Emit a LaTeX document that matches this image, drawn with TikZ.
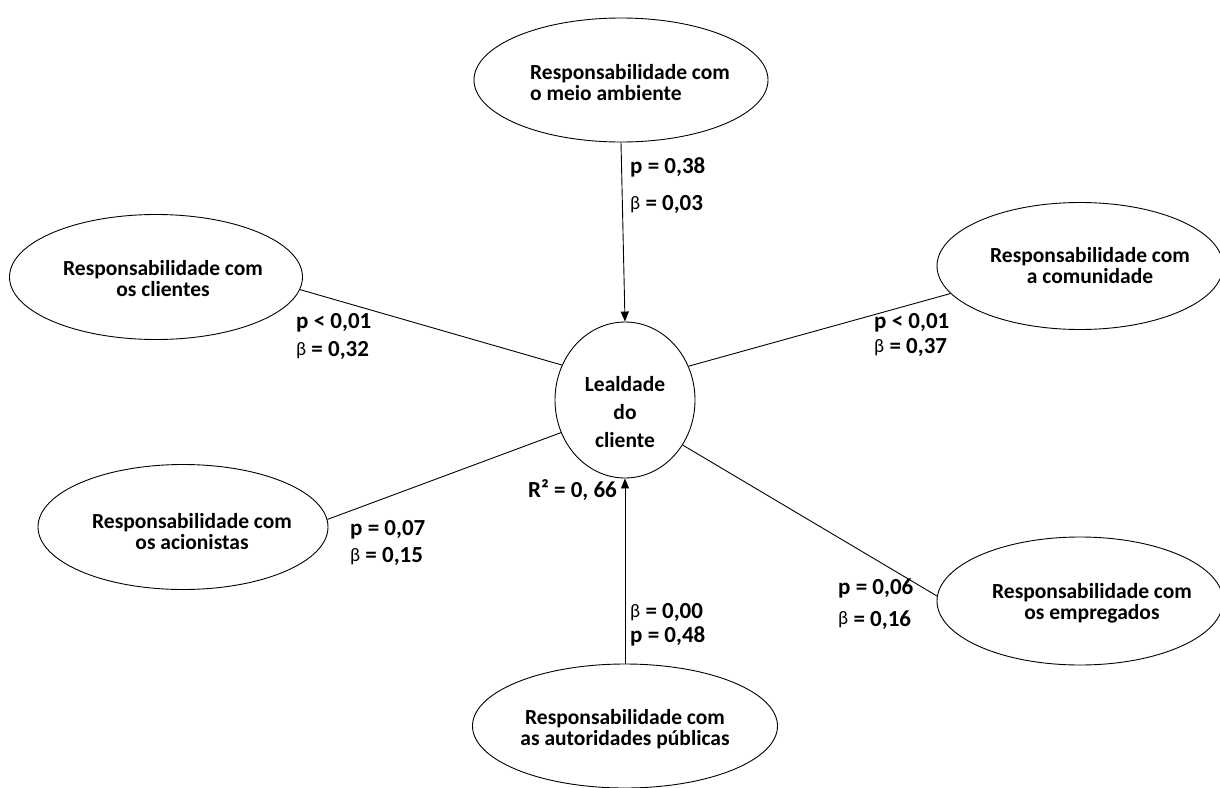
\documentclass[tikz,border=0pt]{standalone}
\usepackage{fontspec}
\setmainfont{Carlito}
\usetikzlibrary{shapes.geometric,arrows.meta}
\tikzset{
  construct/.style={ellipse,draw,line width=0.9pt,inner sep=0pt},
  ctext/.style={inner sep=0pt,align=center,font=\fontsize{21.5}{21}\selectfont\bfseries},
  link/.style={draw,line width=0.9pt},
  arrowlink/.style={link,-{Triangle[length=10pt,width=8pt]}},
  lbl/.style={anchor=west,inner sep=0pt,font=\fontsize{23}{26}\selectfont\bfseries},
}
\newcommand{\bb}{{\mdseries\raisebox{1.5pt}{\fontsize{19}{20}\selectfont β}}}
\begin{document}
\begin{tikzpicture}[x=1pt,y=-1pt]
\useasboundingbox (0,0) rectangle (1220,787);
\node[construct,minimum width=294,minimum height=124] (amb) at (621,80) {};
\node[construct,minimum width=293,minimum height=125] (cli) at (156,277) {};
\node[construct,minimum width=286,minimum height=127] (com) at (1080,266) {};
\node[construct,minimum width=290,minimum height=125] (aci) at (183,527) {};
\node[construct,minimum width=286,minimum height=128] (emp) at (1080,601) {};
\node[construct,minimum width=305,minimum height=124] (aut) at (625,726) {};
\node[construct,minimum width=140,minimum height=156] (leal) at (625,400) {};

\node[ctext,align=left] (ambt) at (630,83) {Responsabilidade com\\o meio ambiente};
\node[ctext] (clit) at (163,279) {Responsabilidade com\\os clientes};
\node[ctext] (comt) at (1090,266) {Responsabilidade com\\a comunidade};
\node[ctext] (acit) at (192,532) {Responsabilidade com\\os acionistas};
\node[ctext] (empt) at (1092,603) {Responsabilidade com\\os empregados};
\node[ctext] (autt) at (625,729) {Responsabilidade com\\as autoridades públicas};
\node[ctext,font=\fontsize{21.5}{28}\selectfont\bfseries] (lealt) at (625,412) {Lealdade\\do\\cliente};

\draw[arrowlink] (amb.south) -- (leal.north);
\draw[arrowlink] (aut.north) -- (leal.south);
\draw[link] (cli.-5) -- (leal.151);
\draw[link] (com.-168) -- (leal.28);
\draw[link] (aci.3) -- (leal.-153);
\draw[link] (emp.178) -- (leal.-38);

\node[lbl] (l1) at (630,167) {p = 0,38};
\node[lbl] (l2) at (630,205) {\bb\ = 0,03};
\node[lbl] (l3) at (296,323) {p < 0,01};
\node[lbl] (l4) at (296,351) {\bb\ = 0,32};
\node[lbl] (l5) at (874,323) {p < 0,01};
\node[lbl] (l6) at (874,348) {\bb\ = 0,37};
\node[lbl] (l7) at (528,490) {R² = 0, 66};
\node[lbl] (l8) at (350,530) {p = 0,07};
\node[lbl] (l9) at (350,557) {\bb\ = 0,15};
\node[lbl] (l10) at (838,588) {p = 0,06};
\node[lbl] (l11) at (838,620) {\bb\ = 0,16};
\node[lbl] (l12) at (630,613) {\bb\ = 0,00};
\node[lbl] (l13) at (630,636) {p = 0,48};
\end{tikzpicture}
\end{document}
